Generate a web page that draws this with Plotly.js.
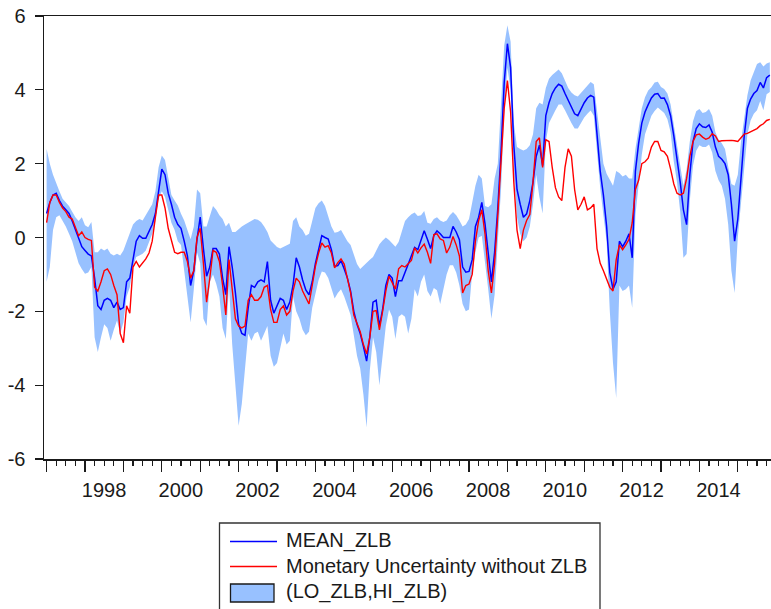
<!DOCTYPE html>
<html>
<head>
<meta charset="utf-8">
<script src="https://cdn.plot.ly/plotly-3.0.1.min.js"></script>
<style>
  html, body { margin: 0; padding: 0; background: #ffffff; }
  #chart { width: 771px; height: 609px; }
</style>
</head>
<body>
<div id="chart"></div>
<script>
// Monthly observations, first one is January 1997
const startYear = 1997;

// MEAN_ZLB
const meanZLB = [
  0.65, 0.95, 1.15, 1.2, 1.0, 0.85, 0.75, 0.65, 0.45, 0.2, -0.05, -0.25,
  -0.35, -0.45, -0.5, -1.1, -1.85, -1.95, -1.7, -1.65, -1.7, -1.9, -1.75, -1.95,
  -1.9, -1.2, -1.1, -0.6, -0.1, 0.05, -0.02, -0.02, 0.15, 0.35, 0.65, 1.2,
  1.85, 1.7, 1.2, 0.9, 0.55, 0.35, 0.25, -0.1, -0.5, -1.3, -0.9, -0.05,
  0.55, -0.3, -1.05, -0.8, -0.3, -0.3, -0.45, -1.1, -1.55, -0.25, -0.8, -1.5,
  -2.35, -2.6, -2.65, -1.9, -1.3, -1.35, -1.2, -1.15, -1.2, -0.65, -1.7, -2.05,
  -1.85, -1.65, -1.7, -1.95, -1.75, -1.3, -0.55, -0.8, -1.15, -1.42, -1.55, -1.2,
  -0.7, -0.32, 0.05, 0.0, -0.04, -0.33, -0.78, -0.76, -0.63, -0.85, -1.1, -1.45,
  -2.0, -2.35, -2.6, -2.95, -3.35, -2.7, -1.75, -1.7, -2.4, -1.95, -1.3, -1.0,
  -1.1, -1.6, -1.17, -1.17, -0.94, -0.71, -0.53, -0.27, -0.33, -0.1, 0.18, -0.05,
  -0.3, 0.05, 0.18, 0.1, 0.0, 0.0, 0.0, 0.3, 0.15, -0.06, -0.8, -0.94,
  -0.92, -0.6, 0.3, 0.55, 0.95, 0.37, -0.5, -1.2, -0.4, 0.8, 2.3, 4.2,
  5.25, 4.6, 2.5, 1.3, 0.9, 0.55, 0.64, 1.0, 1.5, 2.2, 2.5, 1.95,
  3.3, 3.65, 3.9, 4.05, 4.15, 4.1, 3.9, 3.7, 3.55, 3.35, 3.3, 3.5,
  3.65, 3.78, 3.85, 3.8, 2.7, 1.8, 1.15, 0.3, -0.95, -1.4, -1.2, -0.1,
  -0.25, -0.1, 0.1, -0.55, 1.8, 2.55, 3.1, 3.4, 3.6, 3.78, 3.88, 3.9,
  3.77, 3.78, 3.6, 3.3, 2.75, 2.15, 1.5, 0.75, 0.35, 1.7, 2.6, 2.95,
  3.08, 3.0, 2.98, 3.05, 2.85, 2.45, 2.2, 2.12, 2.0, 1.7, 0.9, -0.1,
  0.5, 1.6, 2.75, 3.5, 3.75, 3.9, 3.98, 4.2, 4.05, 4.33, 4.4
];

// Monetary Uncertainty without ZLB
const noZLB = [
  0.4, 0.95, 1.15, 1.15, 0.95, 0.8, 0.7, 0.55, 0.5, 0.3, 0.05, 0.15,
  0.0, -0.05, -0.08, -1.35, -1.45, -1.2, -0.9, -0.85, -1.0, -1.3, -1.55, -2.6,
  -2.85, -1.85, -2.05, -0.8, -0.65, -0.8, -0.7, -0.58, -0.42, -0.1, 0.55, 1.15,
  1.15, 0.8, 0.25, -0.1, -0.4, -0.44, -0.4, -0.4, -0.65, -1.1, -0.9, 0.0,
  0.25, -0.7, -1.75, -1.1, -0.35, -0.4, -0.65, -1.3, -2.1, -0.6, -1.4, -2.2,
  -2.4, -2.45, -2.4, -1.7, -1.55, -1.7, -1.7, -1.6, -1.35, -1.3, -1.95, -2.3,
  -2.3, -1.95, -1.85, -2.1, -2.0, -1.45, -1.1, -1.2, -1.45, -1.65, -1.8, -1.3,
  -0.78, -0.42, -0.15, -0.26, -0.22, -0.42, -0.82, -0.68, -0.58, -0.72, -1.15, -1.5,
  -2.1, -2.35, -2.55, -2.9, -3.15, -2.7, -2.0, -1.98, -2.5, -2.0, -1.45, -1.05,
  -1.25, -1.4, -0.85, -0.76, -0.8, -0.72, -0.62, -0.28, -0.42, -0.28, -0.18, -0.4,
  -0.7, 0.08, 0.1, -0.04, -0.08, -0.42, -0.26, 0.03, -0.2, -0.5, -1.5, -1.3,
  -1.26, -1.0, -0.1, 0.45, 0.75, 0.1, -0.9, -1.5, -0.7, 0.6, 2.0, 3.5,
  4.25, 3.4, 1.5, 0.2, -0.3, 0.2, 0.46, 0.62, 1.5, 2.6, 2.7, 1.9,
  2.65, 2.6, 1.9, 1.35, 1.1, 1.0, 1.9, 2.4, 2.2, 1.3, 0.75, 0.9,
  1.1, 0.75, 0.8, 0.9, -0.3, -0.7, -0.9, -1.15, -1.35, -1.45, -0.6, -0.2,
  -0.33, -0.2, -0.05, 0.4, 1.3, 1.55, 2.0, 2.05, 2.15, 2.45, 2.6, 2.6,
  2.36, 2.32, 2.2, 1.85, 1.45, 1.2, 1.15, 1.2, 1.6, 2.2, 2.6, 2.78,
  2.8, 2.72, 2.66, 2.7, 2.81, 2.75, 2.6, 2.62, 2.63, 2.63, 2.63, 2.62,
  2.6, 2.7, 2.8, 2.82, 2.86, 2.9, 2.95, 3.03, 3.08, 3.17, 3.2
];

// HI_ZLB (upper edge of the band)
const hiZLB = [
  2.4, 2.0, 1.7, 1.45, 1.25, 1.05, 0.96, 0.85, 0.7, 0.55, 0.45, 0.55,
  0.33, 0.28, 0.42, -0.4, -0.4, -0.3, -0.35, -0.3, -0.44, -0.49, -0.44, -0.49,
  -0.35, -0.13, 0.1, 0.35, 0.45, 0.5, 0.46, 0.6, 0.73, 0.9, 1.25, 1.9,
  2.22, 2.1, 1.63, 1.15, 1.0, 0.87, 0.64, 0.46, 0.2, -0.05, 0.3, 1.3,
  1.2, 0.3, 0.3, 0.6, 0.85, 0.75, 0.6, 0.5, 0.3, 0.4, 0.15, 0.15,
  0.23, 0.3, 0.35, 0.4, 0.45, 0.5, 0.48, 0.42, 0.3, 0.15, -0.08, -0.17,
  -0.26, -0.3, -0.26, -0.22, -0.17, 0.45, 0.55, 0.3, 0.2, 0.05, 0.1, 0.45,
  0.8, 0.93, 1.0, 0.85, 0.6, 0.3, 0.13, 0.15, 0.2, 0.05, -0.1, -0.2,
  -0.45, -0.72, -0.85, -0.76, -0.67, -0.6, -0.53, -0.37, -0.18, -0.08, 0.0, -0.07,
  -0.15, -0.25, -0.12, 0.15, 0.45, 0.55, 0.63, 0.68, 0.58, 0.6, 0.72, 0.4,
  0.37, 0.5, 0.55, 0.46, 0.42, 0.46, 0.6, 0.69, 0.6, 0.46, 0.3, 0.35,
  0.5, 0.95, 1.4, 1.7, 1.6, 0.85, 0.82, 0.9, 1.6, 2.0, 3.8, 5.2,
  5.75, 5.3, 3.1, 2.45, 2.4, 2.36, 2.4, 2.5, 2.8, 3.5, 3.65, 3.6,
  4.05, 4.3, 4.4, 4.47, 4.55, 4.45, 4.25, 4.05, 3.93, 3.85, 3.82, 3.92,
  4.0, 4.12, 4.21, 4.15, 3.45, 2.6, 2.0, 1.73, 1.55, 1.4, 1.8, 1.75,
  1.65, 1.7, 1.6, 1.6, 2.4, 3.0, 3.5, 3.8, 3.98, 4.07, 4.2, 4.22,
  4.08, 4.02, 3.9, 3.6, 3.05, 2.45, 1.9, 1.4, 1.85, 2.6, 3.15, 3.42,
  3.48, 3.37, 3.4, 3.48, 3.3, 2.85, 2.65, 2.55, 2.4, 1.9, 1.45, 1.4,
  1.7, 2.6, 3.3, 3.85, 4.25, 4.5, 4.7, 4.75, 4.63, 4.71, 4.75
];

// LO_ZLB (lower edge of the band)
const loZLB = [
  -1.2, -0.8, 0.2, 0.55, 0.6, 0.45, 0.3, 0.1, -0.1, -0.4, -0.7, -0.85,
  -0.98, -0.95, -0.8, -2.7, -3.1, -2.7, -2.35, -2.45, -2.8, -2.5, -2.25, -2.6,
  -2.3, -1.6, -1.35, -0.8, -0.53, -0.49, -0.44, -0.35, -0.1, 0.1, 0.45, 1.05,
  1.25, 1.1, 0.75, 0.4, 0.2, -0.1, -0.2, -0.9, -1.5, -2.3, -1.4, -0.4,
  -0.7, -2.2, -2.4, -1.2, -1.0, -1.25, -1.6, -2.45, -2.75, -1.3, -2.9, -4.1,
  -5.1, -4.5, -3.6, -2.6, -2.8, -2.6, -2.55, -2.8, -2.6, -2.4, -3.2, -3.5,
  -3.4, -3.0, -2.6, -2.9, -2.8, -1.6, -2.0, -2.2, -2.5, -2.65, -2.55, -1.9,
  -1.5, -1.15, -0.92, -0.95, -1.1, -1.4, -1.65, -1.5, -1.4, -1.6, -1.85, -2.1,
  -2.65, -3.2, -3.55, -4.25, -5.15, -3.6, -2.7, -3.1, -4.0, -3.1, -2.4, -1.95,
  -2.15, -2.75, -2.15, -2.08, -2.15, -2.6, -2.2, -1.4, -1.6, -1.2, -1.0, -1.45,
  -1.6, -1.37, -1.43, -1.8, -1.4, -1.0, -0.75, -0.75, -0.95, -1.3, -1.8, -2.0,
  -1.95, -0.95, -0.4, 0.0, 0.05, -0.6, -1.4, -2.2, -1.55, -0.1, 1.3, 3.4,
  4.6, 4.0, 1.8, 0.55, 0.1, -0.1, 0.0, 0.3, 0.9, 1.7, 1.1, 0.65,
  2.6, 3.1, 3.3, 3.45, 3.6, 3.6, 3.45, 3.25, 3.1, 2.95, 2.95, 3.1,
  3.25, 3.35, 3.44, 3.3, 2.2, 1.35, 0.6, -0.1, -2.0, -3.4, -4.35, -1.3,
  -1.45, -1.4, -1.3, -1.9, 0.6, 1.4, 2.25, 2.8, 3.08, 3.3, 3.43, 3.52,
  3.45, 3.37, 3.2, 2.85, 2.05, 1.5, 0.7, -0.55, -0.45, 1.0, 1.95, 2.35,
  2.5, 2.45, 2.45, 2.52, 2.3, 1.8, 1.55, 1.4, 1.05, 0.35, -0.9, -1.5,
  0.0, 0.9, 2.0, 2.8, 3.17, 3.35, 3.45, 3.7, 3.45, 3.88, 3.94
];

// Axis labelling
const tickYears = [1997, 1998, 1999, 2000, 2001, 2002, 2003, 2004, 2005, 2006,
                   2007, 2008, 2009, 2010, 2011, 2012, 2013, 2014, 2015];
const tickLabels = ["", "1998", "", "2000", "", "2002", "", "2004", "", "2006",
                    "", "2008", "", "2010", "", "2012", "", "2014", ""];
const yTicks = [-6, -4, -2, 0, 2, 4, 6];
const yLabels = ["-6", "-4", "-2", "0", "2", "4", "6"];

const legendNames = ["MEAN_ZLB", "Monetary Uncertainty without ZLB", "(LO_ZLB,HI_ZLB)"];

// time axis: one point per month
const dates = meanZLB.map((_, i) => startYear + i / 12);

const BLUE = "#0000FF";
const RED = "#FF0000";
const BAND = "#98C1FF";
const INK = "#1a1a1a";
const FONT = "Liberation Sans, Arial, sans-serif";

const W = 771, H = 609;
const M = { l: 44, r: 0, t: 16, b: 150 };
const plotW = W - M.l - M.r, plotH = H - M.t - M.b;
const px = v => (v - M.l) / plotW;      // page pixel -> paper x
const py = v => (H - M.b - v) / plotH;  // page pixel -> paper y

const traces = [
  { x: dates, y: loZLB, type: "scatter", mode: "lines",
    line: { width: 0, color: BAND }, hoverinfo: "skip", showlegend: false },
  { x: dates, y: hiZLB, type: "scatter", mode: "lines", fill: "tonexty",
    fillcolor: BAND, line: { width: 0, color: BAND }, name: legendNames[2] },
  { x: dates, y: meanZLB, type: "scatter", mode: "lines",
    line: { width: 1.5, color: BLUE }, name: legendNames[0] },
  { x: dates, y: noZLB, type: "scatter", mode: "lines",
    line: { width: 1.4, color: RED }, name: legendNames[1] }
];

// legend box drawn as shapes + text
const rowY = [541.5, 566.5, 592];
const shapes = [
  { type: "rect", xref: "paper", yref: "paper",
    x0: px(219.5), x1: px(600), y0: py(523), y1: py(640),
    line: { color: "#333333", width: 1.3 }, fillcolor: "rgba(0,0,0,0)" },
  { type: "line", xref: "paper", yref: "paper",
    x0: px(230), x1: px(277), y0: py(rowY[0]), y1: py(rowY[0]),
    line: { color: BLUE, width: 1.4 } },
  { type: "line", xref: "paper", yref: "paper",
    x0: px(230), x1: px(277), y0: py(rowY[1]), y1: py(rowY[1]),
    line: { color: RED, width: 1.4 } },
  { type: "rect", xref: "paper", yref: "paper",
    x0: px(230.5), x1: px(274), y0: py(584), y1: py(602),
    line: { color: INK, width: 1.3 }, fillcolor: BAND }
];
const annotations = legendNames.map((t, i) => ({
  text: t, xref: "paper", yref: "paper", x: px(284), y: py(rowY[i] - 1),
  xanchor: "left", yanchor: "middle", showarrow: false,
  font: { family: FONT, size: 20, color: INK }
}));

const layout = {
  width: W, height: H,
  margin: { l: M.l, r: M.r, t: M.t, b: M.b, pad: 0 },
  paper_bgcolor: "#ffffff", plot_bgcolor: "#ffffff",
  showlegend: false,
  xaxis: {
    range: [1996.932, 1996.932 + plotW / 38.4],
    tickmode: "array", tickvals: tickYears, ticktext: tickLabels,
    ticks: "outside", ticklen: 11, tickwidth: 1.3, tickcolor: INK,
    ticklabelshift: 19, ticklabelstandoff: 1,
    minor: { tickmode: "linear", tick0: 1997, dtick: 0.25, ticks: "outside",
             ticklen: 5, tickwidth: 1.3, tickcolor: INK, showgrid: false },
    showline: true, linecolor: INK, linewidth: 1.5, mirror: true,
    showgrid: false, zeroline: false,
    tickfont: { family: FONT, size: 20, color: INK }
  },
  yaxis: {
    range: [-6, 6], tickmode: "array", tickvals: yTicks, ticktext: yLabels,
    ticks: "outside", ticklen: 8, tickwidth: 1.3, tickcolor: INK,
    ticklabelstandoff: 5,
    showline: true, linecolor: INK, linewidth: 1.5,
    showgrid: false, zeroline: false,
    tickfont: { family: FONT, size: 20, color: INK }
  },
  shapes: shapes,
  annotations: annotations
};

Plotly.newPlot("chart", traces, layout, { staticPlot: true, displayModeBar: false });
</script>
</body>
</html>
